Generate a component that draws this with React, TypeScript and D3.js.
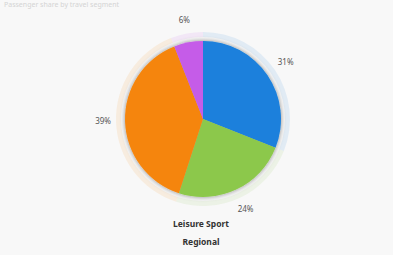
import React from "react";
import * as d3 from "d3";

const categories = ["Business", "Leisure", "Regional", "Other"];
const values = [31, 24, 39, 6];
const colors = ["#1b80dc", "#8cc84b", "#f5850c", "#c55ce8"];
const labels = ["31%", "24%", "39%", "6%"];
const footerLines = ["Leisure Sport", "Regional"];

export default function App() {
  const W = 393, H = 255;
  const cx = 203, cy = 119, r = 78;
  const pie = d3.pie<number>().sort(null).value((d) => d)(values);
  const arc = d3.arc<d3.PieArcDatum<number>>().innerRadius(0).outerRadius(r);
  const ring = d3.arc<d3.PieArcDatum<number>>().innerRadius(r + 4).outerRadius(r + 9);
  const lab = d3.arc<d3.PieArcDatum<number>>().innerRadius(100).outerRadius(100);
  return (
    <svg width={W} height={H} style={{ position: "absolute", left: 0, top: 0, background: "#f8f8f8" }}>
      <defs>
        <filter id="sh" x="-20%" y="-20%" width="140%" height="140%">
          <feDropShadow dx="0" dy="0" stdDeviation="2.5" floodColor="#000" floodOpacity="0.45" />
        </filter>
      </defs>
      <text x={4} y={7} fontSize={7} fill="#d4d4d4" fontFamily="Noto Sans">Passenger share by travel segment</text>
      <g transform={`translate(${cx},${cy})`}>
        {pie.map((p, i) => (
          <path key={"r" + i} d={ring(p) || ""} fill={colors[i]} opacity={0.1} />
        ))}
        <g filter="url(#sh)">
          {pie.map((p, i) => (
            <path key={i} d={arc(p) || ""} fill={colors[i]} />
          ))}
        </g>
        {pie.map((p, i) => {
          const [x, y] = lab.centroid(p);
          return (
            <text key={"l" + i} x={x} y={y} textAnchor="middle" dominantBaseline="middle" fontSize={8} fill="#555" fontFamily="Noto Sans">
              {labels[i]}
            </text>
          );
        })}
      </g>
      {footerLines.map((t, i) => (
        <text key={t} x={201} y={227 + i * 18} textAnchor="middle" fontSize={8.5} fontWeight="bold" fill="#333" fontFamily="Noto Sans">
          {t}
        </text>
      ))}
    </svg>
  );
}
